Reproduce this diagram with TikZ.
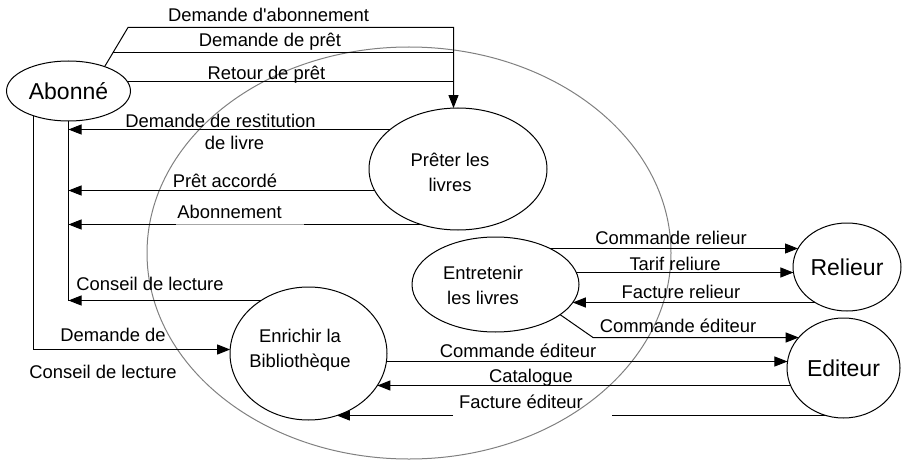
\documentclass[tikz,border=0pt]{standalone}
\usepackage{fontspec}
\setmainfont{Liberation Sans}
\usetikzlibrary{shapes.geometric,arrows.meta,calc}
\newcommand\lblfont{\fontsize{9.2}{12.5}\selectfont}
\newcommand\entfont{\fontsize{11.5}{13.5}\selectfont}
\font\aposfont="Liberation Sans" at 9.2pt
\tikzset{
  conn/.style={line width=0.5pt, draw=black},
  arr/.style={conn, -{Triangle[length=6.5pt,width=5pt]}},
  bub/.style={ellipse, draw, line width=0.5pt, inner sep=0pt, outer sep=0pt},
  ent/.style={bub, font=\entfont},
  sysell/.style={ellipse, draw=black!50, line width=0.5pt, inner sep=0pt, outer sep=0pt,
                 minimum width=262pt, minimum height=206pt},
  lbl/.style={font=\lblfont, inner sep=0pt, anchor=base},
  blk/.style={font=\lblfont, inner sep=0pt, align=center, anchor=center},
}
\begin{document}
\begin{tikzpicture}[x=0.5pt,y=-0.5pt]
\useasboundingbox (0,0) rectangle (904,460);
% system boundary
\node[sysell] (sys) at (409,253) {};
% external entities
\node[ent, minimum width=62pt, minimum height=30pt] (abo) at (68.5,91) {Abonné};
\node[ent, minimum width=54pt, minimum height=44pt] (rel) at (847,267) {Relieur};
\node[ent, minimum width=56.5pt, minimum height=50pt] (edi) at (843.5,368) {Editeur};
% processes
\node[bub, minimum width=89pt, minimum height=61pt] (pret) at (458,169) {};
\node[bub, minimum width=83.5pt, minimum height=47.5pt] (entr) at (495.5,284.5) {};
\node[bub, minimum width=78.5pt, minimum height=66.5pt] (enr) at (308.5,353.5) {};
\node[blk] (pretT) at (450,173.5) {Prêter les\strut\\livres\strut};
\node[blk] (entrT) at (483,286.5) {Entretenir\strut\\les livres\strut};
\node[blk] (enrT) at (300,349.5) {Enrichir la\strut\\Bibliothèque\strut};
% border points (on the ellipses, at the connector heights)
\coordinate (aRet) at ($(abo.center)+({62*sqrt(1-(9.5/30)^2)},-9.5)$);
\coordinate (aOut) at ($(abo.center)+(-35,{30*sqrt(1-(35/62)^2)})$);
\coordinate (pTop) at ($(pret.center)+(-4.5,{-61*sqrt(1-(4.5/89)^2)})$);
\coordinate (pRest) at ($(pret.center)+({-89*sqrt(1-(39.5/61)^2)},-39.5)$);
\coordinate (pAcc) at ($(pret.center)+({-89*sqrt(1-(21.5/61)^2)},21.5)$);
\coordinate (pAbon) at ($(pret.center)+({-89*sqrt(1-(55.5/61)^2)},55.5)$);
\coordinate (nCons) at ($(enr.center)+({-78.5*sqrt(1-(53/66.5)^2)},-53)$);
\coordinate (nDem) at ($(enr.center)+({-78.5*sqrt(1-(4/66.5)^2)},-4)$);
\coordinate (nCE) at ($(enr.center)+({78.5*sqrt(1-(8/66.5)^2)},8)$);
\coordinate (nCat) at ($(enr.center)+({78.5*sqrt(1-(32/66.5)^2)},32)$);
\coordinate (nFE) at ($(enr.center)+({78.5*sqrt(1-(62/66.5)^2)},62)$);
\coordinate (eCR) at ($(entr.center)+({83.5*sqrt(1-(36/47.5)^2)},-36)$);
\coordinate (eTR) at ($(entr.center)+({83.5*sqrt(1-(12/47.5)^2)},-12)$);
\coordinate (eFR) at ($(entr.center)+({83.5*sqrt(1-(18/47.5)^2)},18)$);
\coordinate (rCR) at ($(rel.center)+({-54*sqrt(1-(18.5/44)^2)},-18.5)$);
\coordinate (rTR) at ($(rel.center)+({-54*sqrt(1-(5.5/44)^2)},5.5)$);
\coordinate (rFR) at ($(rel.center)+({-54*sqrt(1-(35.5/44)^2)},35.5)$);
\coordinate (dCE2) at ($(edi.center)+({-56.5*sqrt(1-(30.5/50)^2)},-30.5)$);
\coordinate (dCE1) at ($(edi.center)+({-56.5*sqrt(1-(6.5/50)^2)},-6.5)$);
\coordinate (dCat) at ($(edi.center)+({-56.5*sqrt(1-(17.5/50)^2)},17.5)$);
\coordinate (dFE) at ($(edi.center)+({-56.5*sqrt(1-(47.5/50)^2)},47.5)$);
% bends and gaps
\coordinate (c1) at (128,27.5);
\coordinate (c2) at (intersection of abo.34--c1 and 0,52.5--100,52.5);
\coordinate (c3) at (593,337.5);
\coordinate (fe1) at (453,415.5);
\coordinate (fe2) at (612,415.5);
\coordinate (ga1) at (176,0);
\coordinate (ga2) at (304,0);
% Abonne -> Preter
\draw[arr] (abo.34) -- (c1) -- (c1 -| pTop) -- (pTop);
\draw[conn] (c2) -- (c2 -| pTop);
\draw[conn] (aRet) -- (aRet -| pTop);
% Preter / Enrichir -> Abonne
\draw[conn] (abo.south) -- (abo.south |- nCons);
\draw[arr] (pRest) -- (pRest -| abo.south);
\draw[arr] (pAcc) -- (pAcc -| abo.south);
\draw[arr] (pAbon) -- (pAbon -| abo.south);
\draw[line width=0.5pt, draw=black!35] (ga1 |- pAbon) -- (ga2 |- pAbon);
\draw[arr] (nCons) -- (nCons -| abo.south);
% Abonne -> Enrichir
\draw[arr] (aOut) |- (nDem);
% Entretenir <-> Relieur
\draw[arr] (eCR) -- (rCR);
\draw[arr] (eTR) -- (rTR);
\draw[arr] (rFR) -- (eFR);
% Entretenir -> Editeur
\draw[arr] (entr.-25) -- (c3) -- (dCE2);
% Enrichir <-> Editeur
\draw[arr] (nCE) -- (dCE1);
\draw[arr] (dCat) -- (nCat);
\draw[conn] (dFE) -- (fe2);
\draw[arr] (fe1) -- (nFE);
% labels
\node[lbl] (lAbo) at (268.5,22) {Demande d{\aposfont'}abonnement};
\node[lbl] (lPret) at (270,47) {Demande de prêt};
\node[lbl] (lRet) at (266.5,80) {Retour de prêt};
\node[blk] (lRest) at (220.5,133) {Demande de restitution\strut\\[-1.5pt]\hspace*{14pt}de livre\strut};
\node[lbl] (lAcc) at (225,187) {Prêt accordé};
\node[lbl] (lAbon) at (229.5,218) {Abonnement};
\node[lbl] (lCons) at (150,290) {Conseil de lecture};
\node[blk] (lDem) at (103,354.5) {\hspace*{10pt}Demande de\strut\\[6pt]Conseil de lecture\strut};
\node[lbl] (lCE1) at (518,357) {Commande éditeur};
\node[lbl] (lCat) at (531,382) {Catalogue};
\node[lbl] (lFE) at (521,408) {Facture éditeur};
\node[lbl] (lCR) at (671,244) {Commande relieur};
\node[lbl] (lTR) at (675,270) {Tarif reliure};
\node[lbl] (lFR) at (681,298) {Facture relieur};
\node[lbl] (lCE2) at (678,332) {Commande éditeur};
\end{tikzpicture}
\end{document}
